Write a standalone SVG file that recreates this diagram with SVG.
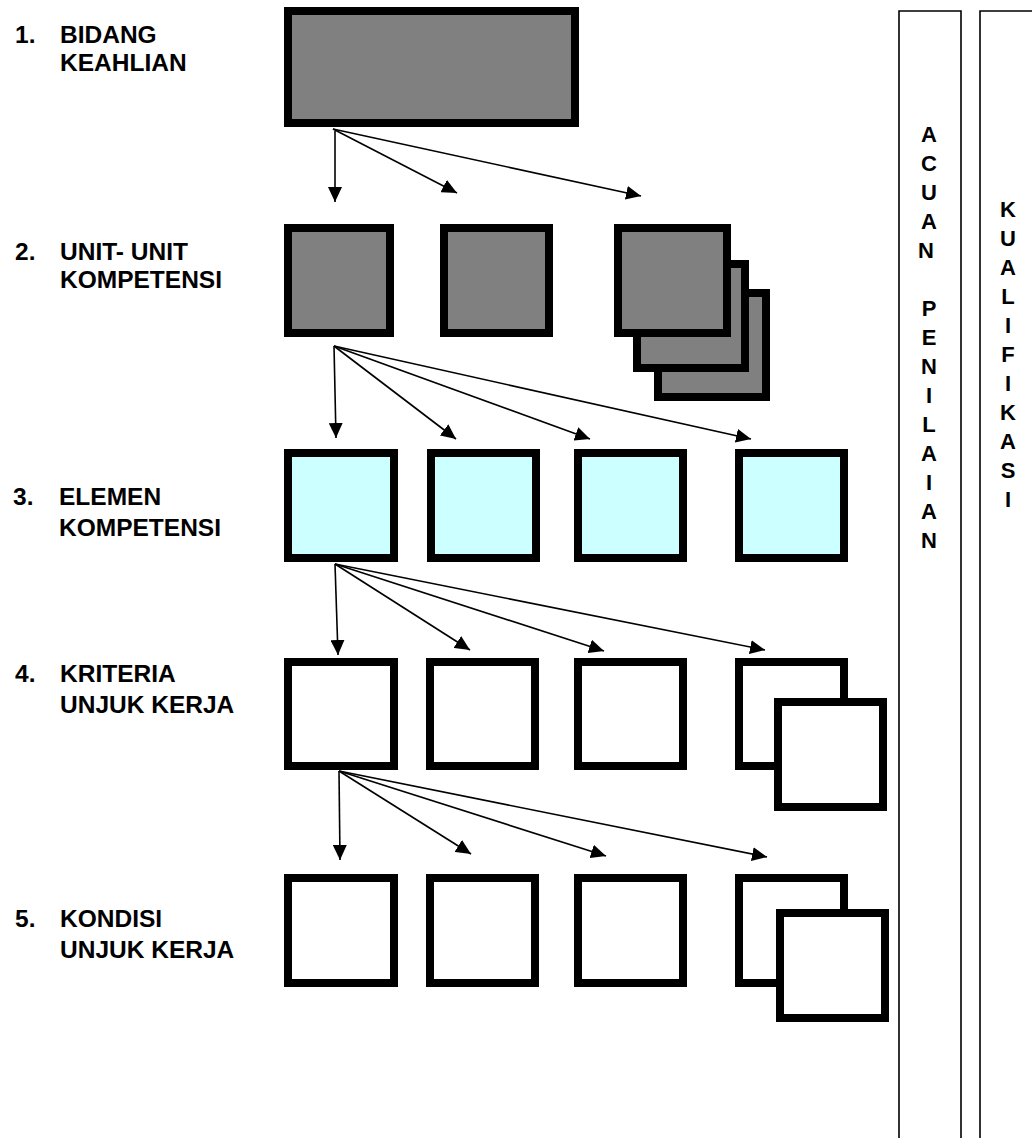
<svg xmlns="http://www.w3.org/2000/svg" width="1032" height="1138" viewBox="0 0 1032 1138">
<style>
.lbl{font-family:"Liberation Sans",Arial,sans-serif;font-weight:bold;font-size:24.5px;fill:#000}
.col{font-family:"Liberation Sans",Arial,sans-serif;font-weight:bold;font-size:22px;fill:#000}
.g{fill:#808080;stroke:#000;stroke-width:8}
.c{fill:#CCFFFF;stroke:#000;stroke-width:8}
.w{fill:#fff;stroke:#000;stroke-width:8}
.ln{stroke:#000;stroke-width:1.6;fill:none;marker-end:url(#ah)}
.frame{fill:none;stroke:#000;stroke-width:1.6}
</style>
<defs>
<marker id="ah" markerUnits="userSpaceOnUse" markerWidth="15" markerHeight="14" refX="15" refY="7" orient="auto">
<path d="M0,0 L15,7 L0,14 z" fill="#000"/>
</marker>
</defs>
<rect width="1032" height="1138" fill="#fff"/>

<g id="labels">
<text class="lbl" x="15" y="43">1.</text><text class="lbl" x="60" y="43">BIDANG</text><text class="lbl" x="60" y="71">KEAHLIAN</text>
<text class="lbl" x="15" y="260">2.</text><text class="lbl" x="60" y="260">UNIT- UNIT</text><text class="lbl" x="60" y="288">KOMPETENSI</text>
<text class="lbl" x="13" y="505">3.</text><text class="lbl" x="59" y="505">ELEMEN</text><text class="lbl" x="59" y="536">KOMPETENSI</text>
<text class="lbl" x="15" y="682">4.</text><text class="lbl" x="60" y="682">KRITERIA</text><text class="lbl" x="60" y="713">UNJUK KERJA</text>
<text class="lbl" x="15" y="927">5.</text><text class="lbl" x="60" y="927">KONDISI</text><text class="lbl" x="60" y="958">UNJUK KERJA</text>
</g>

<g id="acuan-penilaian">
<path class="frame" d="M899,1138 V11 H961 V1138"/>
<text class="col" text-anchor="middle">
<tspan x="929" y="142">A</tspan><tspan x="929" y="171">C</tspan><tspan x="929" y="200">U</tspan><tspan x="929" y="229">A</tspan><tspan x="929" y="258">N</tspan>
<tspan x="929" y="316">P</tspan><tspan x="929" y="345">E</tspan><tspan x="929" y="374">N</tspan><tspan x="929" y="403">I</tspan><tspan x="929" y="432">L</tspan><tspan x="929" y="461">A</tspan><tspan x="929" y="490">I</tspan><tspan x="929" y="519">A</tspan><tspan x="929" y="548">N</tspan>
</text>
</g>

<g id="kualifikasi">
<path class="frame" d="M980,1138 V11 H1040"/>
<text class="col" text-anchor="middle">
<tspan x="1008" y="217">K</tspan><tspan x="1008" y="246">U</tspan><tspan x="1008" y="275">A</tspan><tspan x="1008" y="304">L</tspan><tspan x="1008" y="333">I</tspan><tspan x="1008" y="362">F</tspan><tspan x="1008" y="391">I</tspan><tspan x="1008" y="420">K</tspan><tspan x="1008" y="449">A</tspan><tspan x="1008" y="478">S</tspan><tspan x="1008" y="507">I</tspan>
</text>
</g>

<g id="bidang"><rect class="g" x="288" y="11" width="287" height="112"/></g>

<g id="unit-1"><rect class="g" x="288" y="228" width="102" height="105"/></g>
<g id="unit-2"><rect class="g" x="444" y="228" width="105" height="105"/></g>
<g id="unit-3">
<rect class="g" x="658" y="293" width="108" height="104"/>
<rect class="g" x="637" y="264" width="108" height="104"/>
<rect class="g" x="618" y="228" width="109" height="105"/>
</g>

<g id="elemen-1"><rect class="c" x="288" y="453" width="106" height="105"/></g>
<g id="elemen-2"><rect class="c" x="431" y="453" width="105" height="105"/></g>
<g id="elemen-3"><rect class="c" x="578" y="453" width="105" height="105"/></g>
<g id="elemen-4"><rect class="c" x="739" y="453" width="105" height="105"/></g>

<g id="kriteria-1"><rect class="w" x="288" y="662" width="106" height="104"/></g>
<g id="kriteria-2"><rect class="w" x="430" y="662" width="105" height="104"/></g>
<g id="kriteria-3"><rect class="w" x="578" y="662" width="105" height="104"/></g>
<g id="kriteria-4">
<rect class="w" x="739" y="662" width="105" height="104"/>
<rect class="w" x="778" y="702" width="105" height="105"/>
</g>

<g id="kondisi-1"><rect class="w" x="288" y="878" width="106" height="105"/></g>
<g id="kondisi-2"><rect class="w" x="430" y="878" width="105" height="105"/></g>
<g id="kondisi-3"><rect class="w" x="578" y="878" width="105" height="105"/></g>
<g id="kondisi-4">
<rect class="w" x="739" y="878" width="105" height="105"/>
<rect class="w" x="780" y="913" width="105" height="105"/>
</g>

<g id="connectors">
<line class="ln" x1="335" y1="131" x2="335" y2="202"/>
<line class="ln" x1="333" y1="129" x2="457" y2="193"/>
<line class="ln" x1="333" y1="129" x2="641" y2="196"/>

<line class="ln" x1="334" y1="346" x2="336" y2="438"/>
<line class="ln" x1="334" y1="346" x2="456" y2="439"/>
<line class="ln" x1="334" y1="346" x2="590" y2="439"/>
<line class="ln" x1="334" y1="346" x2="751" y2="439"/>

<line class="ln" x1="335" y1="564" x2="338" y2="655"/>
<line class="ln" x1="335" y1="564" x2="470" y2="650"/>
<line class="ln" x1="335" y1="564" x2="604" y2="651"/>
<line class="ln" x1="335" y1="564" x2="765" y2="650"/>

<line class="ln" x1="339" y1="771" x2="340" y2="860"/>
<line class="ln" x1="339" y1="771" x2="471" y2="854"/>
<line class="ln" x1="339" y1="771" x2="606" y2="856"/>
<line class="ln" x1="339" y1="771" x2="767" y2="857"/>
</g>
</svg>
